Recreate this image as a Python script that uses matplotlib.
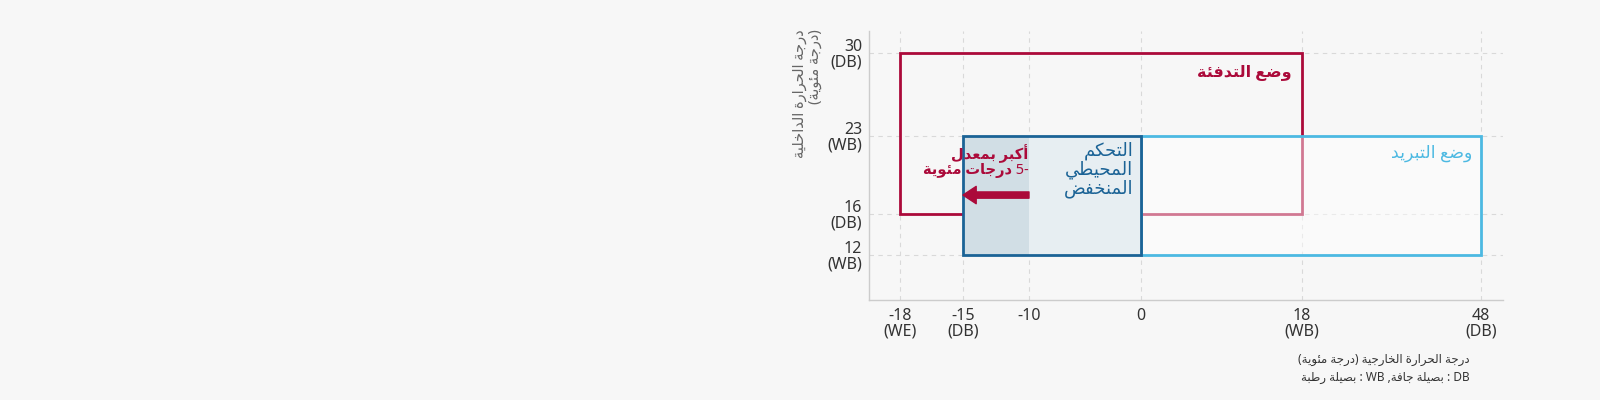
import re
import numpy as np
import matplotlib
matplotlib.use('Agg')
import matplotlib.pyplot as plt
from matplotlib.patches import Rectangle, FancyArrowPatch

# ---- data -------------------------------------------------------------
x_ticks = [-18, -15, -10, 0, 18, 48]
x_labels = ['-18\n(WE)', '-15\n(DB)', '-10', '0', '18\n(WB)', '48\n(DB)']
y_ticks = [12, 16, 23, 30]
y_labels = ['12\n(WB)', '16\n(DB)', '23\n(WB)', '30\n(DB)']

heating_x = [-18, 18]
heating_y = [16, 30]
cooling_x = [0, 48]
cooling_y = [12, 23]
low_x = [-15, 0]
low_y = [12, 23]
extended_x = [-15, -10]
arrow_x = [-10, -15]
arrow_y = 17.7

heating_label = 'وضع التدفئة'
cooling_label = 'وضع التبريد'
low_label = ['التحكم', 'المحيطي', 'المنخفض']
extend_label = ['أكبر بمعدل', '-5 درجات مئوية']
y_title = ['درجة الحرارة الداخلية', '(درجة مئوية)']
x_note = 'درجة الحرارة الخارجية (درجة مئوية)'
legend_note = 'DB : بصيلة جافة, WB : بصيلة رطبة'

RED = '#ab0a3a'
LIGHT_BLUE = '#4cb9e2'
DARK_BLUE = '#1b6396'
BG = '#f7f7f7'

# ---- simple arabic shaping (matplotlib has no shaping / bidi) ----------
AR_FORMS = {
    'ء': (0xFE80, 1), 'آ': (0xFE81, 2), 'أ': (0xFE83, 2), 'ؤ': (0xFE85, 2),
    'إ': (0xFE87, 2), 'ئ': (0xFE89, 4), 'ا': (0xFE8D, 2), 'ب': (0xFE8F, 4),
    'ة': (0xFE93, 2), 'ت': (0xFE95, 4), 'ث': (0xFE99, 4), 'ج': (0xFE9D, 4),
    'ح': (0xFEA1, 4), 'خ': (0xFEA5, 4), 'د': (0xFEA9, 2), 'ذ': (0xFEAB, 2),
    'ر': (0xFEAD, 2), 'ز': (0xFEAF, 2), 'س': (0xFEB1, 4), 'ش': (0xFEB5, 4),
    'ص': (0xFEB9, 4), 'ض': (0xFEBD, 4), 'ط': (0xFEC1, 4), 'ظ': (0xFEC5, 4),
    'ع': (0xFEC9, 4), 'غ': (0xFECD, 4), 'ف': (0xFED1, 4), 'ق': (0xFED5, 4),
    'ك': (0xFED9, 4), 'ل': (0xFEDD, 4), 'م': (0xFEE1, 4), 'ن': (0xFEE5, 4),
    'ه': (0xFEE9, 4), 'و': (0xFEED, 2), 'ى': (0xFEEF, 2), 'ي': (0xFEF1, 4),
}


def shape(s):
    out = []
    for i, ch in enumerate(s):
        if ch not in AR_FORMS:
            out.append(ch)
            continue
        base, n = AR_FORMS[ch]
        prev = s[i - 1] if i > 0 else ''
        nxt = s[i + 1] if i + 1 < len(s) else ''
        jp = prev in AR_FORMS and AR_FORMS[prev][1] == 4
        jn = n == 4 and nxt in AR_FORMS and AR_FORMS[nxt][1] > 1
        if n == 1:
            form = 0
        elif jp and jn:
            form = 3
        elif jp:
            form = 1
        elif jn:
            form = 2
        else:
            form = 0
        out.append(chr(base + form))
    return ''.join(out)


def rtl(s):
    mirror = {'(': ')', ')': '('}
    rev = ''.join(mirror.get(c, c) for c in shape(s)[::-1])
    return re.sub(r'[A-Za-z0-9]+', lambda m: m.group(0)[::-1], rev)


plt.rcParams['font.family'] = ['Noto Sans', 'DejaVu Sans']

# piecewise axis scales (the reference axes are not linear)
XK = [-20, -18, -15, -10, 0, 18, 48, 50]
XP = [869, 900, 963, 1029, 1141, 1302, 1481, 1503]
YK = [8, 12, 16, 23, 30, 32]
YP = [100, 145, 186, 264, 347, 369]

fig = plt.figure(figsize=(16, 4), dpi=100, facecolor=BG)
ax = fig.add_axes([869 / 1600, 100 / 400, (1503 - 869) / 1600, 269 / 400])
ax.set_facecolor(BG)
ax.set_xscale('function', functions=(lambda v: np.interp(v, XK, XP),
                                     lambda p: np.interp(p, XP, XK)))
ax.set_yscale('function', functions=(lambda v: np.interp(v, YK, YP),
                                     lambda p: np.interp(p, YP, YK)))
ax.set_xlim(-20, 50)
ax.set_ylim(8, 32)

ax.set_xticks(x_ticks)
ax.set_xticklabels(x_labels)
ax.set_yticks(y_ticks)
ax.set_yticklabels(y_labels)
ax.minorticks_off()
ax.tick_params(axis='both', length=0, labelsize=11.5, labelcolor='#333333')
ax.tick_params(axis='x', pad=6)
ax.tick_params(axis='y', pad=5)
for lab in ax.get_xticklabels():
    lab.set_linespacing(0.92)
    lab.set_multialignment('center')
for lab in ax.get_yticklabels():
    lab.set_linespacing(0.92)
    lab.set_multialignment('right')

ax.grid(True, color='#d9d9d9', linestyle=(0, (4, 4)), linewidth=0.8)
ax.set_axisbelow(True)
for side in ['top', 'right']:
    ax.spines[side].set_visible(False)
for side in ['left', 'bottom']:
    ax.spines[side].set_color('#cccccc')
    ax.spines[side].set_linewidth(1)

# heating box
ax.add_patch(Rectangle((heating_x[0], heating_y[0]), heating_x[1] - heating_x[0],
                       heating_y[1] - heating_y[0], fill=False, edgecolor=RED,
                       linewidth=2, zorder=3))
# cooling box (semi transparent fill over heating lines)
ax.add_patch(Rectangle((cooling_x[0], cooling_y[0]), cooling_x[1] - cooling_x[0],
                       cooling_y[1] - cooling_y[0], facecolor=(1, 1, 1, 0.45),
                       edgecolor=LIGHT_BLUE, linewidth=2, zorder=4))
# low ambient box
ax.add_patch(Rectangle((low_x[0], low_y[0]), low_x[1] - low_x[0],
                       low_y[1] - low_y[0], facecolor='#e7eef2',
                       edgecolor='none', zorder=5))
ax.add_patch(Rectangle((extended_x[0], low_y[0]), extended_x[1] - extended_x[0],
                       low_y[1] - low_y[0], facecolor='#d1dee5',
                       edgecolor='none', zorder=5))
ax.add_patch(Rectangle((low_x[0], low_y[0]), low_x[1] - low_x[0],
                       low_y[1] - low_y[0], fill=False,
                       edgecolor=DARK_BLUE, linewidth=2, zorder=6))

ax.add_patch(FancyArrowPatch((arrow_x[0], arrow_y), (arrow_x[1], arrow_y),
                             arrowstyle='simple,head_width=1.25,head_length=0.95,tail_width=0.45',
                             mutation_scale=10, color=RED, shrinkA=0, shrinkB=0,
                             zorder=7))

ax.text(16.8, 28.3, rtl(heating_label), color=RED, fontsize=11.5,
        fontweight='bold', ha='right', va='center', zorder=8)
ax.text(46.5, 21.5, rtl(cooling_label), color=LIGHT_BLUE, fontsize=12.5,
        ha='right', va='center', zorder=8)
ax.text(-0.7, 19.95, '\n'.join(rtl(t) for t in low_label), color=DARK_BLUE,
        fontsize=13, ha='right', va='center', multialignment='right',
        linespacing=1.05, zorder=8)
ax.text(-10.05, 20.75, '\n'.join(rtl(t) for t in extend_label), color=RED,
        fontsize=10.5, fontweight='bold', ha='right', va='center',
        multialignment='right', linespacing=1.0, zorder=8)

fig.text(808 / 1600, 371 / 400, '\n'.join(rtl(t) for t in y_title),
         rotation=90, va='top', ha='center', multialignment='right',
         fontsize=10.5, color='#666666', linespacing=1.0)
fig.text(1470 / 1600, 41 / 400, rtl(x_note), ha='right', va='center',
         fontsize=8.5, color='#333333')
fig.text(1470 / 1600, 22 / 400, rtl(legend_note), ha='right', va='center',
         fontsize=8.5, color='#333333')

fig.savefig('out.png', dpi=100, facecolor=BG)
